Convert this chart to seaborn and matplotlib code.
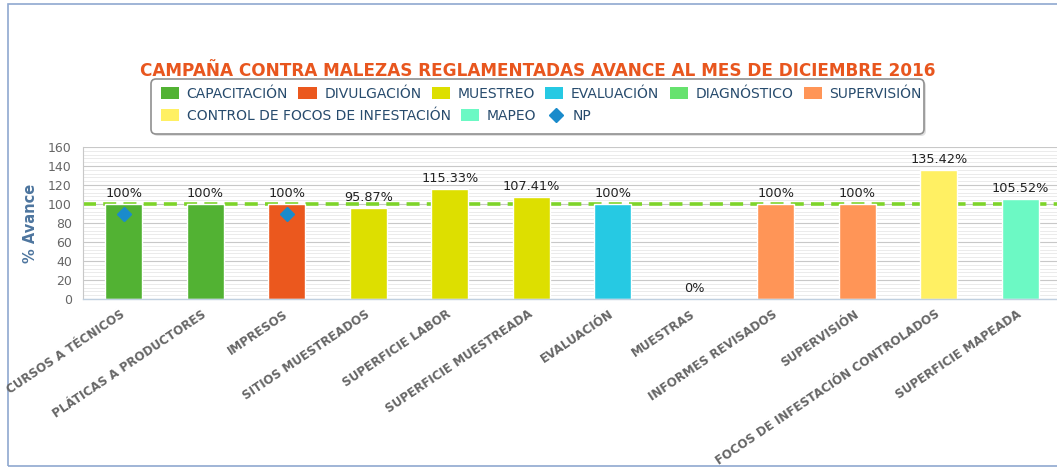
import numpy as np
import pandas as pd
import seaborn as sns
import matplotlib.pyplot as plt
from matplotlib.patches import Patch, FancyBboxPatch, Rectangle
from matplotlib.lines import Line2D
from matplotlib.ticker import MultipleLocator
from matplotlib.transforms import IdentityTransform

# datos
categorias = ['CURSOS A TÉCNICOS', 'PLÁTICAS A PRODUCTORES', 'IMPRESOS', 'SITIOS MUESTREADOS',
              'SUPERFICIE LABOR', 'SUPERFICIE MUESTREADA', 'EVALUACIÓN', 'MUESTRAS',
              'INFORMES REVISADOS', 'SUPERVISIÓN', 'FOCOS DE INFESTACIÓN CONTROLADOS',
              'SUPERFICIE MAPEADA']
avance = [100, 100, 100, 95.87, 115.33, 107.41, 100, 0, 100, 100, 135.42, 105.52]
serie = ['CAPACITACIÓN', 'CAPACITACIÓN', 'DIVULGACIÓN', 'MUESTREO', 'MUESTREO', 'MUESTREO',
         'EVALUACIÓN', 'DIAGNÓSTICO', 'SUPERVISIÓN', 'SUPERVISIÓN',
         'CONTROL DE FOCOS DE INFESTACIÓN', 'MAPEO']
series_orden = ['CAPACITACIÓN', 'DIVULGACIÓN', 'MUESTREO', 'EVALUACIÓN', 'DIAGNÓSTICO',
                'SUPERVISIÓN', 'CONTROL DE FOCOS DE INFESTACIÓN', 'MAPEO']
colores = ['#52B233', '#EB581E', '#DDDF00', '#26C9E3', '#66E26E', '#FF9557', '#FFF063', '#6CF9C4']
np_categorias = ['CURSOS A TÉCNICOS', 'IMPRESOS']
np_valores = [90, 90]
meta = 100

sns.set_style('white')
plt.rcParams['font.family'] = ['DejaVu Sans']

df = pd.DataFrame({'categoria': categorias, 'avance': avance, 'serie': serie})
paleta = dict(zip(series_orden, colores))

W, H = 1057, 469
fig = plt.figure(figsize=(W / 100, H / 100), dpi=100)
ax = fig.add_axes([83 / W, 1 - 299 / H, 978 / W, 152 / H])

# linea de meta (detras de las barras)
ax.axhline(meta, color='#7ED42A', lw=2.6, ls=(0, (3.6, 2.0)), zorder=1.5)

sns.barplot(data=df, x='categoria', y='avance', hue='serie', hue_order=series_orden,
            palette=paleta, saturation=1, dodge=False, width=0.45, edgecolor='white',
            linewidth=1, legend=False, ax=ax, zorder=2)

# NP
np_idx = [categorias.index(c) for c in np_categorias]
ax.plot(np_idx, np_valores, ls='none', marker='D', ms=7, color='#1A8BCB', zorder=4)

# etiquetas de datos
for i, v in enumerate(avance):
    ax.annotate(f'{v:g}%', (i, v), xytext=(0, 3), textcoords='offset points',
                ha='center', va='bottom', fontsize=9.3, color='#222222', zorder=5)

n = len(categorias)
ax.set_xlim(-0.5, n - 0.5)
ax.set_ylim(0, 160)
ax.set_xticks(range(n))
ax.set_xticklabels(categorias, rotation=34, ha='right', va='center', rotation_mode='anchor',
                   fontweight='bold', color='#666666', fontsize=8.6)
ax.set_xticks(np.arange(-0.5, n - 1, 1), minor=True)
ax.tick_params(axis='x', which='major', length=0, pad=10)
ax.tick_params(axis='x', which='minor', length=4.5, width=1.8, color='#333333', direction='out')
ax.set_yticks(range(0, 161, 20))
ax.yaxis.set_minor_locator(MultipleLocator(4))
ax.tick_params(axis='y', which='both', length=0, labelsize=9, labelcolor='#666666', pad=8)
ax.grid(which='major', axis='y', color='#C8C8C8', lw=0.8)
ax.grid(which='minor', axis='y', color='#EBEBEB', lw=0.7)
ax.set_axisbelow(True)
ax.set_xlabel('')
ax.set_ylabel('% Avance', fontsize=10.5, fontweight='bold', color='#4D759E')
ax.yaxis.set_label_coords(-0.046, 0.5)
for s in ['top', 'right']:
    ax.spines[s].set_visible(False)
ax.spines['left'].set_color('#C8C8C8')
ax.spines['left'].set_linewidth(0.8)
ax.spines['bottom'].set_color('#C0D0E0')
ax.spines['bottom'].set_linewidth(1)

# titulo
fig.text(538 / W, 1 - 71 / H, 'CAMPAÑA CONTRA MALEZAS REGLAMENTADAS AVANCE AL MES DE DICIEMBRE 2016',
         ha='center', va='center', fontsize=12.2, fontweight='bold', color='#E8561E')

# leyenda en dos filas
handles = [Patch(facecolor=paleta[s], edgecolor='none', label=s) for s in series_orden]
handles.append(Line2D([], [], ls='none', marker='D', ms=7, color='#1A8BCB', label='NP'))
opts = dict(loc='center left', frameon=False, fontsize=10, handlelength=1.3, handleheight=0.95,
            handletextpad=0.55, columnspacing=0.75, borderpad=0, borderaxespad=0,
            labelcolor='#274B6D')
fig.legend(handles=handles[:6], ncol=6, bbox_to_anchor=(161 / W, 1 - 94 / H), **opts)
fig.legend(handles=handles[6:], ncol=3, bbox_to_anchor=(161 / W, 1 - 116 / H), **opts)

sombra = FancyBboxPatch((153, H - 136), 773, 55, boxstyle='round,pad=0,rounding_size=5',
                        transform=IdentityTransform(), facecolor='#000000', alpha=0.12,
                        edgecolor='none', zorder=0)
caja = FancyBboxPatch((151, H - 134), 773, 55, boxstyle='round,pad=0,rounding_size=5',
                      transform=IdentityTransform(), facecolor='white', edgecolor='#909090',
                      lw=1.2, zorder=0.5)
fig.add_artist(sombra)
fig.add_artist(caja)

# marco exterior
marco = Rectangle((8, 3), 1200, H - 7, transform=IdentityTransform(), fill=False,
                  edgecolor='#8FA8D0', lw=1.2, zorder=0)
fig.add_artist(marco)

fig.savefig('out.png', dpi=100)
